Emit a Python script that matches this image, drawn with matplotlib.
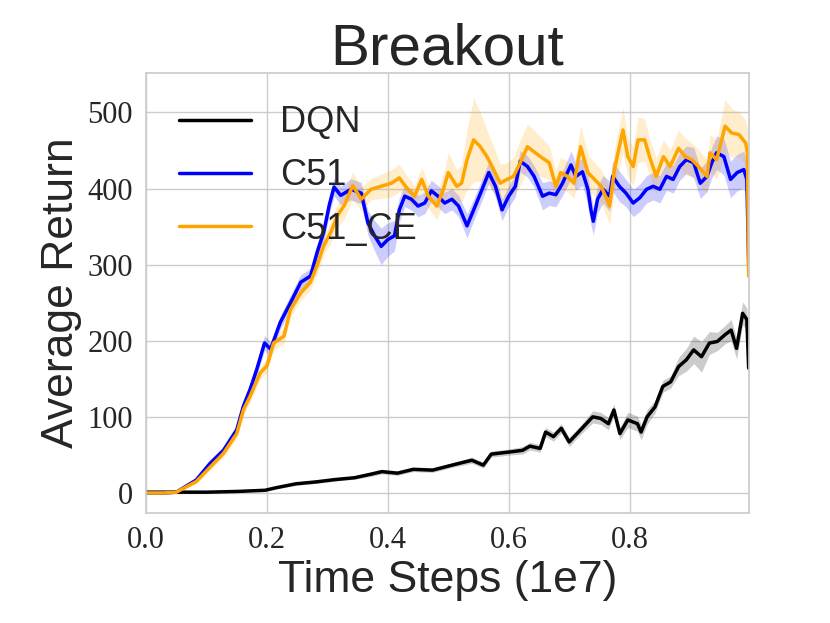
import numpy as np
import matplotlib
matplotlib.use("Agg")
import matplotlib.pyplot as plt
import seaborn as sns

# Values (x in units of 1e7 steps)
c51_x = [0, 0.03, 0.05, 0.083, 0.106, 0.128, 0.15, 0.161, 0.172, 0.183,
         0.196, 0.206, 0.222, 0.239, 0.256, 0.272, 0.283, 0.294, 0.303, 0.311,
         0.322, 0.339, 0.356, 0.367, 0.378, 0.389, 0.4, 0.411, 0.419, 0.428,
         0.439, 0.45, 0.461, 0.472, 0.483, 0.494, 0.506, 0.517, 0.531, 0.542,
         0.556, 0.567, 0.578, 0.589, 0.6, 0.611, 0.619, 0.631, 0.642, 0.656,
         0.667, 0.678, 0.689, 0.703, 0.711, 0.722, 0.731, 0.736, 0.74, 0.747,
         0.756, 0.767, 0.772, 0.783, 0.794, 0.806, 0.817, 0.828, 0.839, 0.85,
         0.861, 0.872, 0.883, 0.894, 0.906, 0.917, 0.928, 0.936, 0.944, 0.956,
         0.967, 0.978, 0.989, 0.994, 0.997]
c51_y = [0, 0, 1, 17, 39, 56, 83, 114, 136, 162,
         197, 189, 224, 250, 277, 285, 316, 343, 378, 402,
         391, 399, 394, 355, 338, 324, 333, 338, 372, 390,
         386, 377, 381, 397, 390, 381, 386, 377, 351, 372,
         399, 421, 403, 372, 390, 403, 436, 429, 416, 390,
         394, 392, 407, 431, 416, 422, 399, 372, 357, 386,
         399, 390, 416, 403, 394, 381, 388, 399, 403, 399,
         416, 412, 429, 438, 434, 407, 416, 434, 447, 442,
         412, 421, 425, 412, 300]
c51_err = [0, 0, 1, 3, 4, 5, 6, 7, 8, 8,
           10, 9, 9, 10, 10, 10, 12, 12, 12, 12,
           12, 14, 14, 16, 20, 24, 22, 20, 16, 14,
           14, 14, 14, 14, 14, 14, 14, 14, 16, 14,
           14, 14, 14, 14, 14, 14, 14, 14, 14, 18,
           16, 16, 16, 18, 18, 18, 20, 20, 18, 18,
           18, 20, 20, 20, 18, 18, 18, 18, 18, 18,
           18, 18, 18, 18, 20, 20, 20, 20, 22, 24,
           24, 24, 24, 24, 30]

ce_x = [0, 0.03, 0.05, 0.083, 0.106, 0.128, 0.15, 0.161, 0.172, 0.189,
        0.2, 0.211, 0.228, 0.239, 0.256, 0.272, 0.283, 0.294, 0.306, 0.317,
        0.328, 0.342, 0.356, 0.372, 0.389, 0.406, 0.419, 0.433, 0.444, 0.456,
        0.467, 0.481, 0.492, 0.5, 0.514, 0.522, 0.531, 0.542, 0.553, 0.564,
        0.575, 0.586, 0.597, 0.608, 0.619, 0.631, 0.644, 0.656, 0.667, 0.678,
        0.686, 0.697, 0.708, 0.719, 0.731, 0.742, 0.753, 0.767, 0.775, 0.783,
        0.789, 0.797, 0.806, 0.814, 0.825, 0.833, 0.844, 0.856, 0.867, 0.881,
        0.892, 0.903, 0.914, 0.928, 0.933, 0.944, 0.958, 0.969, 0.981, 0.992,
        0.995, 0.997]
ce_y = [0, 0, 1, 15, 34, 52, 78, 109, 127, 158,
        167, 197, 206, 241, 263, 277, 299, 325, 343, 365,
        378, 404, 386, 399, 403, 407, 414, 399, 390, 412,
        390, 377, 399, 421, 403, 407, 438, 464, 455, 442,
        425, 407, 412, 416, 434, 455, 447, 440, 434, 403,
        421, 416, 407, 455, 421, 412, 403, 377, 425, 455,
        477, 442, 429, 464, 464, 442, 416, 442, 429, 453,
        442, 438, 429, 416, 447, 438, 482, 473, 471, 460,
        447, 285]
ce_err = [0, 0, 1, 3, 4, 5, 6, 7, 8, 8,
          9, 9, 10, 10, 10, 10, 11, 12, 14, 16,
          18, 18, 16, 14, 16, 18, 18, 16, 14, 16,
          16, 18, 20, 26, 22, 24, 40, 55, 45, 35,
          30, 25, 22, 25, 30, 30, 28, 25, 22, 20,
          20, 20, 20, 28, 24, 22, 22, 24, 26, 28,
          30, 25, 25, 30, 28, 24, 24, 22, 22, 24,
          24, 22, 22, 22, 24, 26, 35, 32, 30, 30,
          30, 40]

dqn_x = [0, 0.05, 0.1, 0.152, 0.197, 0.216, 0.248, 0.281, 0.313, 0.345,
         0.374, 0.39, 0.416, 0.442, 0.474, 0.506, 0.539, 0.558, 0.571, 0.603,
         0.623, 0.635, 0.652, 0.661, 0.674, 0.687, 0.7, 0.719, 0.739, 0.752,
         0.765, 0.774, 0.784, 0.797, 0.813, 0.819, 0.829, 0.842, 0.855, 0.868,
         0.881, 0.894, 0.906, 0.919, 0.932, 0.945, 0.958, 0.968, 0.977, 0.987,
         0.994, 0.997]
dqn_y = [1, 1, 1, 2, 3.5, 7, 12, 14.5, 17.6, 20,
         25, 28, 26, 31, 30, 36.5, 43, 36.5, 51, 54,
         56, 61.5, 58.5, 80, 74, 85, 67, 83, 100, 98,
         91, 109, 78, 96, 91, 80, 100, 113, 140, 146,
         166, 175, 188, 179, 197, 199, 208, 214, 190, 236,
         228, 164]
dqn_err = [0, 0, 0, 0.5, 1, 1.5, 2, 2, 2, 2,
           3, 3, 3, 3, 3, 3, 4, 4, 4, 4,
           5, 5, 5, 6, 6, 6, 6, 6, 8, 8,
           8, 8, 8, 10, 10, 10, 10, 8, 8, 8,
           12, 15, 18, 20, 15, 12, 12, 14, 14, 15,
           15, 15]

series = [
    ("DQN", dqn_x, dqn_y, dqn_err, "black"),
    ("C51", c51_x, c51_y, c51_err, "blue"),
    ("C51_CE", ce_x, ce_y, ce_err, "orange"),
]

sns.set_theme(style="whitegrid")
plt.rcParams['font.family'] = ['Liberation Sans', 'DejaVu Sans']

fig = plt.figure(figsize=(8.3, 6.23), dpi=100)
ax = fig.add_axes([0.176, 0.177, 0.726, 0.706])

for name, x, y, err, col in series:
    x = np.array(x)
    y = np.array(y)
    err = np.array(err)
    ax.plot(x, y, color=col, lw=2.5, label=name)
    ax.fill_between(x, y - err, y + err, color=col, alpha=0.2, lw=0)

ax.set_xlim(0, 0.997)
ax.set_ylim(-26, 552)
ax.set_xticks([0.0, 0.2, 0.4, 0.6, 0.8])
ax.set_yticks([0, 100, 200, 300, 400, 500])
ax.set_xticklabels(["0.0", "0.2", "0.4", "0.6", "0.8"])
ax.set_yticklabels(["0", "100", "200", "300", "400", "500"])
for lab in ax.get_xticklabels() + ax.get_yticklabels():
    lab.set_fontfamily("Liberation Serif")
    lab.set_fontsize(22)
    lab.set_color("#262626")

ax.set_title("Breakout", fontsize=42, color="#262626")
ax.set_xlabel("Time Steps (1e7)", fontsize=32, color="#262626")
ax.set_ylabel("Average Return", fontsize=32, color="#262626")

leg = ax.legend(loc="upper left", fontsize=26, frameon=False)

fig.savefig("out.png", dpi=100)
